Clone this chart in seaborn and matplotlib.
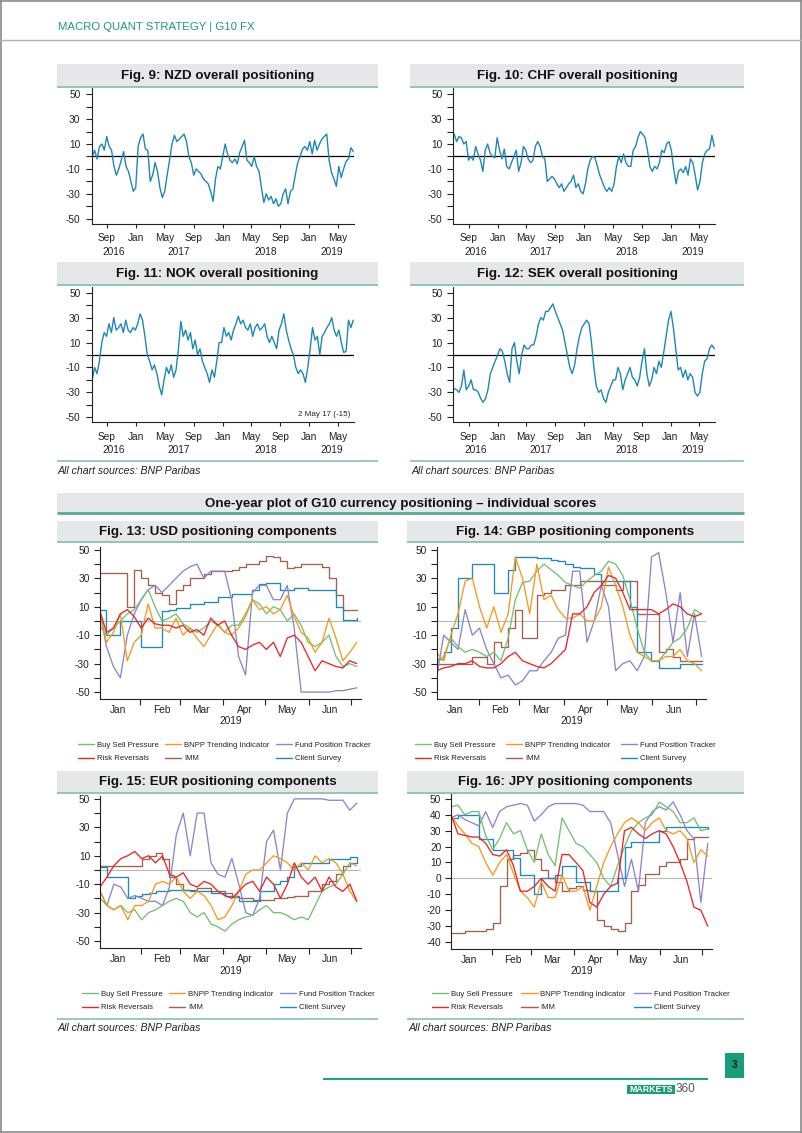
import numpy as np
import pandas as pd
import matplotlib
matplotlib.use("Agg")
import matplotlib.pyplot as plt
import matplotlib.dates as mdates
from matplotlib.lines import Line2D
from matplotlib.patches import Rectangle
import seaborn as sns

# ---------------------------------------------------------------- data
# Overall positioning scores (Jul 2016 - Jul 2019, roughly 3 readings per month)
nzd_overall = [0, 5, -2, 8, 10, 5, 16, 8, 5, -8, -15, -10, -3, 4, -8, -12, -20, -28,
               -25, 8, 15, 18, 6, 5, -20, -15, -5, -12, -25, -33, -28, -15, -3,
               10, 17, 12, 14, 16, 18, 12, 0, -5, -15, -10, -12, -14, -18, -20,
               -22, -28, -36, -18, -8, -10, 0, 10, 2, -3, -5, -2, -6, 3, 8,
               13, -3, -5, -8, 0, -8, -12, -25, -37, -30, -35, -32, -38, -34, -40,
               -38, -30, -26, -38, -28, -26, -15, -5, 0, 6, 8, 5, 12, 2, 13,
               5, 10, 14, 16, 18, -3, -13, -18, -24, -8, -17, -10, -4, -2, 7, 4]
chf_overall = [18, 12, 16, 15, 10, 12, -3, 0, -3, 8, 2, -3, -12, 5, 10, 3, 0, -1,
               15, 5, -2, 6, -8, -10, -5, 0, 5, -12, -5, 8, 5, -2, -5, -3, 8, 12,
               8, 0, -2, -20, -18, -16, -18, -22, -25, -22, -28, -25, -22, -20, -15,
               -25, -22, -28, -30, -22, -10, -3, 0, -1, -8, -15, -20, -25, -28, -25,
               -28, -22, -8, 0, -5, 2, -5, -8, -8, 5, 8, 15, 20, 18, 15, 5, -8, -12,
               -8, -10, -5, 5, 3, 10, 12, 5, -10, -22, -12, -10, -13, -8, -15,
               -2, -5, -15, -27, -20, -5, 2, 5, 6, 17, 8]
nok_overall = [-20, -10, -15, -5, 10, 18, 15, 25, 18, 30, 20, 22, 25, 18, 28, 20, 18, 22,
               20, 25, 33, 28, 15, 0, -5, -12, -8, -15, -25, -32, -20, -10, -15,
               -8, -18, -12, 5, 27, 15, 20, 12, 18, 5, 12, 0, 5, -5, -10, -15, -22, -12,
               -18, -5, 10, 10, 22, 15, 18, 12, 20, 25, 31, 25, 28, 22, 20, 25, 15, 22,
               25, 20, 22, 25, 15, 10, 15, 10, 5, 20, 25, 33, 20, 12, 5, 0, -10, -15,
               -12, -15, -22, -10, 5, 22, 12, 15, 0, 15, 18, 22, 25, 30, 20,
               15, 20, 10, 2, 3, 28, 22, 28]
sek_overall = [-27, -28, -30, -25, -12, -28, -25, -20, -28, -28, -30, -35, -38, -35, -28,
               -15, -10, -5, 0, 5, 3, -5, -15, -22, 5, 10, -5, -15, 0, 8, 5, 5, 8,
               8, 15, 25, 30, 28, 35, 35, 38, 41, 35, 30, 25, 20, 10, 0, -10, -15, -8,
               5, 15, 22, 25, 28, 25, 10, -10, -25, -30, -28, -35, -38, -30, -25,
               -20, -20, -10, -15, -28, -20, -15, -10, -18, -20, -25, -18, -5, 5, -15,
               -25, -20, -10, -15, -5, -10, 2, 15, 28, 35, 22, 5, -12, -10, -18,
               -12, -20, -15, -18, -30, -33, -30, -15, -5, -3, 5, 8, 5]

overall_titles = ["Fig. 9: NZD overall positioning", "Fig. 10: CHF overall positioning",
                  "Fig. 11: NOK overall positioning", "Fig. 12: SEK overall positioning"]
overall_yticks = [-50, -30, -10, 10, 30, 50]
overall_start, overall_end = "2016-07-01", "2019-07-05"
years = [2016, 2017, 2018, 2019]
nok_note = "2 May 17 (-15)"

# Components (Jan 2019 - Jul 2019)
component_names = ["Buy Sell Pressure", "Risk Reversals", "BNPP Trending Indicator",
                   "IMM", "Fund Position Tracker", "Client Survey"]
comp_start, comp_end = "2019-01-03", "2019-07-05"

usd_bsp = [-3, -10, -5, 0, 5, 8, 15, 22, 10, 0, 2, 5, -2, -5, -8, -5, 0, -3, -8, -3,
           -3, 5, 15, 12, 5, 10, 8, 0, 5, -3, -15, -18, -15, -10, -25, -32, -30, -32]
usd_trend = [8, -15, -8, 5, -28, -15, -10, 12, -5, -5, -8, 2, -10, -5, -12, -18, -10, -2, -8,
             -10, -5, 3, 15, 8, 10, 5, 8, 18, 3, -8, -12, -22, -15, 2, -12, -28, -22, -15]
usd_fpt = [8, -18, -32, -40, -10, 5, 15, 22, 25, 20, 25, 30, 35, 38, 40, 30, 35, 35, 35,
           15, -25, -38, 20, 25, 25, 15, 15, 25, -5, -50, -50, -50, -50, -50, -49, -49, -48, -47]
usd_rr = [8, -8, -5, 5, 8, 3, -5, 2, -2, -3, -3, -5, -3, -8, -6, -10, 2, -3, 0, -10,
          -18, -20, -17, -15, -20, -15, -25, -12, -10, -15, -25, -35, -28, -30, -32, -33, -28, -30]
usd_imm = [34, 34, 34, 34, 10, 36, 30, 25, 20, 18, 12, 22, 25, 30, 30, 33, 35, 35, 35,
           36, 38, 40, 40, 42, 46, 45, 42, 37, 38, 40, 40, 40, 38, 30, 18, 8, 8, 8]
usd_cs = [8, -10, -10, 0, 0, 0, -18, -18, -18, 7, 8, 9, 9, 12, 12, 13, 13, 17, 17, 19,
          19, 19, 22, 26, 27, 27, 22, 22, 23, 23, 22, 22, 22, 22, 10, 1, 1, 2]

gbp_bsp = [-30, -25, -12, -18, -22, -20, -22, -25, -22, -28, -12, 15, 27, 28, 35, 40, 36,
           32, 27, 25, 23, 28, 32, 35, 42, 40, 32, 15, -5, -22, -28, -28, -22, -15, -12, -5, 8, 5]
gbp_trend = [-22, -28, -10, 5, 28, 30, 10, -5, 10, -8, 5, 45, 30, 5, 40, 15, 18, 8, 2, 2,
             5, 0, 0, 10, 38, 25, 10, -10, -22, -25, -28, -28, -25, -25, -20, -28, -30, -35]
gbp_fpt = [-40, -10, -15, -20, 8, -10, -5, -20, -30, -40, -38, -45, -42, -35, -35, -28, -22,
           -12, -10, 35, 35, -15, 0, 25, 10, -35, -30, -28, -35, -25, 45, 48, 20, -15, 20, -25, 5, -25]
gbp_rr = [-35, -33, -32, -30, -30, -28, -32, -33, -33, -30, -25, -22, -28, -30, -32, -33, -30,
          -25, -20, 5, 5, 10, 20, 25, 32, 30, 20, 8, 8, 8, 8, 5, 8, 12, 10, 5, 3, 5]
gbp_imm = [-30, -30, -30, -30, -30, -25, -25, -30, -15, -18, -5, 8, -12, -12, 18, 20, 22, 22,
           25, 25, 28, 28, 28, 25, 25, 22, 28, 28, 5, 5, 5, -22, -20, -25, -28, -28, -28, -28]
gbp_cs = [-27, -22, -5, 30, 30, 40, 40, 40, 20, 20, 36, 45, 45, 45, 44, 44, 43, 42, 40, 38,
          37, 37, 33, 28, 28, 28, 28, 10, -22, -22, -28, -33, -33, -33, -30, -30, -30, -30]

eur_bsp = [-20, -25, -28, -25, -30, -28, -35, -30, -28, -25, -22, -20, -22, -30, -33, -30, -38,
           -40, -43, -38, -35, -33, -32, -28, -25, -30, -30, -32, -35, -33, -35, -25, -15, -12, -10, -3, 5, 3]
eur_trend = [-15, -25, -28, -25, -35, -25, -25, -22, -10, -8, -10, -5, -15, -20, -15, -18, -25,
             -35, -33, -25, -15, -3, 0, 0, 5, 10, 8, 5, 0, 5, 0, 10, 5, 8, 5, -3, -15, -22]
eur_fpt = [-15, -25, -10, -12, -20, -18, -20, -22, -22, -25, -12, 25, 40, 10, 40, 40, 5, -3, -5,
           8, -10, -30, -32, -20, 20, 28, 0, 40, 50, 50, 50, 50, 50, 49, 49, 49, 42, 47]
eur_rr = [-12, -5, 3, 8, 10, 13, 8, 10, 5, 10, -3, -5, -2, -10, -12, -8, -10, -15, -18, -20,
          -15, -10, -8, -15, -5, -10, -20, -10, 5, -5, -10, -5, -15, -5, -12, -15, -10, -22]
eur_imm = [3, 3, 3, 3, 3, 3, 8, 10, 12, 8, -5, -10, -14, -14, -13, -13, -15, -15, -16, -18,
           -20, -20, -21, -21, -21, -20, -20, -19, -18, -18, -15, -15, -10, -8, -3, 3, 5, 5]
eur_cs = [2, -5, -5, -5, -20, -18, -17, -16, -15, -15, -14, -14, -14, -15, -15, -15, -16, -16,
          -18, -19, -22, -22, -22, -15, -15, -10, -8, -5, 3, 5, 5, 5, 5, 8, 8, 8, 9, 5]

jpy_bsp = [45, 46, 40, 42, 42, 27, 18, 25, 35, 28, 30, 18, 10, 28, 15, 8, 38, 30, 22, 20,
           15, 10, 0, -5, 8, 20, 30, 35, 38, 40, 48, 45, 42, 35, 35, 38, 30, 31]
jpy_trend = [40, 33, 28, 22, 20, 10, 2, 10, 15, 3, -8, -12, -18, -2, -12, -12, 2, -8, -8, -5,
             -20, -5, 10, 20, 28, 35, 38, 35, 30, 35, 38, 30, 28, 30, 25, 10, 18, 14]
jpy_fpt = [38, 40, 37, 35, 33, 42, 32, 42, 45, 46, 47, 46, 36, 40, 45, 47, 47, 47, 47, 46,
           42, 42, 42, 35, 15, -5, 12, -8, 35, 42, 45, 43, 48, 40, 30, 25, -15, 22]
jpy_rr = [40, 28, 27, 26, 26, 22, 15, 14, 18, 8, -8, -8, -5, 0, -5, -8, 15, 15, 10, 5,
          -15, -18, -10, -5, -3, 30, 32, 28, 25, 28, 30, 28, 20, 10, -2, -18, -20, -30]
jpy_imm = [-34, -34, -33, -33, -33, -32, -28, -5, 12, 15, 16, 18, 12, 5, 0, -2, -8, -6, -5, -7,
           -8, -26, -30, -32, -33, -28, -8, -4, 3, 3, 8, 10, 10, 12, 25, 26, 26, 26]
jpy_cs = [38, 40, 40, 40, 25, 25, 18, 18, 18, 13, 2, 2, -10, 0, 0, 2, 8, 8, -2, -2,
          -8, -8, -8, -8, 0, 20, 23, 23, 23, 23, 30, 32, 32, 32, 32, 32, 32, 31]

component_titles = ["Fig. 13: USD positioning components", "Fig. 14: GBP positioning components",
                    "Fig. 15: EUR positioning components", "Fig. 16: JPY positioning components"]
comp_yticks = [-50, -30, -10, 10, 30, 50]
jpy_yticks = [-40, -30, -20, -10, 0, 10, 20, 30, 40, 50]

# ---------------------------------------------------------------- style
sns.set_theme(style="white")
plt.rcParams["font.family"] = ["Liberation Sans", "DejaVu Sans"]
plt.rcParams["axes.unicode_minus"] = False

GREEN_TXT = "#1f9a70"
BAR = "#e6e7e8"
BAR_LINE = "#8fc7b2"
SRC_LINE = "#8fc7b2"
OV_COLOR = "#1f87b6"
COLORS = {"Buy Sell Pressure": "#72c172", "Risk Reversals": "#e8262b",
          "BNPP Trending Indicator": "#f39a1e", "IMM": "#a3604b",
          "Fund Position Tracker": "#8b86cc", "Client Survey": "#1d8cb6"}
STEP = {"IMM", "Client Survey"}
TICK_FS = 7.3

W, H = 802, 1133
fig = plt.figure(figsize=(W / 100, H / 100), dpi=100)
fig.patch.set_facecolor("white")


def fx(x):
    return x / W


def fy(y):
    return 1 - y / H


def add_ax(x0, y0, x1, y1):
    return fig.add_axes([fx(x0), fy(y1), (x1 - x0) / W, (y1 - y0) / H])


def hline(x0, x1, y, color, lw):
    fig.add_artist(Line2D([fx(x0), fx(x1)], [fy(y), fy(y)], transform=fig.transFigure,
                          color=color, lw=lw, solid_capstyle="butt"))


def vline(x, y0, y1, color, lw):
    fig.add_artist(Line2D([fx(x), fx(x)], [fy(y0), fy(y1)], transform=fig.transFigure,
                          color=color, lw=lw))


def rect(x0, y0, x1, y1, color):
    fig.add_artist(Rectangle((fx(x0), fy(y1)), (x1 - x0) / W, (y1 - y0) / H,
                             transform=fig.transFigure, facecolor=color, edgecolor="none"))


def title_bar(x0, x1, y0, y1, text, size=9.6, line_color=BAR_LINE, lw=1.4):
    rect(x0, y0, x1, y1, BAR)
    hline(x0, x1, y1, line_color, lw)
    fig.text(fx((x0 + x1) / 2), fy((y0 + y1) / 2 + 0.5), text, ha="center", va="center",
             fontsize=size, fontweight="bold", color="#111111")


def style_spines(ax):
    for s in ["top", "right"]:
        ax.spines[s].set_visible(False)
    for s in ["left", "bottom"]:
        ax.spines[s].set_color("#222222")
        ax.spines[s].set_linewidth(0.8)
    ax.set_xlabel("")
    ax.set_ylabel("")


def overall(ax, vals, note=None):
    dates = pd.date_range(overall_start, overall_end, periods=len(vals))
    df = pd.DataFrame({"date": dates, "score": vals})
    sns.lineplot(data=df, x="date", y="score", ax=ax, color=OV_COLOR, lw=1.0)
    ax.axhline(0, color="black", lw=0.9, zorder=1)
    ax.set_xlim(pd.Timestamp("2016-06-28"), pd.Timestamp("2019-07-08"))
    ax.set_ylim(-54, 55)
    ax.set_yticks(overall_yticks)
    ax.set_yticks(range(-50, 51, 10), minor=True)
    ax.xaxis.set_major_locator(mdates.MonthLocator(bymonth=[1, 5, 9]))
    ax.xaxis.set_major_formatter(mdates.DateFormatter("%b"))
    ax.xaxis.set_minor_locator(matplotlib.ticker.NullLocator())
    ax.tick_params(axis="y", which="both", direction="out", length=4, width=0.8,
                   labelsize=TICK_FS, pad=4, colors="#222222", left=True)
    ax.tick_params(axis="x", which="both", direction="out", length=3, width=0.8,
                   labelsize=TICK_FS, pad=4, colors="#222222", bottom=True)
    style_spines(ax)
    d0, d1 = dates[0], dates[-1]
    for yr in years:
        a = max(pd.Timestamp(f"{yr}-01-01"), d0)
        b = min(pd.Timestamp(f"{yr}-12-31"), d1)
        mid = a + (b - a) / 2
        ax.annotate(str(yr), xy=(mdates.date2num(mid), 0), xycoords=ax.get_xaxis_transform(),
                    xytext=(0, -28 * 0.72), textcoords="offset points",
                    ha="center", va="center", fontsize=TICK_FS, color="#222222")
    if note:
        ax.text(0.985, 0.06, note, transform=ax.transAxes, ha="right", va="center",
                fontsize=5.8, color="#222222")


def components(ax, series, ylim, yticks, minor=True, legend_xy=(0, 0), colspace=0.9):
    dates = pd.date_range(comp_start, comp_end, periods=len(series[component_names[0]]))
    ax.axhline(0, color="#b8b8b8", lw=0.8, zorder=1)
    order = ["IMM", "Client Survey", "Fund Position Tracker", "Buy Sell Pressure",
             "BNPP Trending Indicator", "Risk Reversals"]
    for name in order:
        kw = {"drawstyle": "steps-post"} if name in STEP else {}
        sns.lineplot(x=dates, y=series[name], ax=ax, color=COLORS[name], lw=0.95, **kw)
    ax.set_xlim(pd.Timestamp("2019-01-03"), pd.Timestamp("2019-07-08"))
    ax.set_ylim(*ylim)
    ax.set_yticks(yticks)
    if minor:
        ax.set_yticks(range(-50, 51, 10), minor=True)
    ax.xaxis.set_major_locator(mdates.MonthLocator())
    ax.xaxis.set_major_formatter(matplotlib.ticker.NullFormatter())
    ax.xaxis.set_minor_locator(mdates.MonthLocator(bymonthday=16))
    ax.xaxis.set_minor_formatter(mdates.DateFormatter("%b"))
    ax.tick_params(axis="y", which="both", direction="out", length=4, width=0.8,
                   labelsize=TICK_FS, pad=3, colors="#222222", left=True)
    ax.tick_params(axis="x", which="major", direction="out", length=4, width=0.8,
                   bottom=True, colors="#222222")
    ax.tick_params(axis="x", which="minor", length=0, labelsize=TICK_FS, pad=5, colors="#222222")
    style_spines(ax)
    ax.annotate("2019", xy=(0.5, 0), xycoords="axes fraction", xytext=(0, -23 * 0.72),
                textcoords="offset points", ha="center", va="center", fontsize=TICK_FS,
                color="#222222")
    handles = [Line2D([], [], color=COLORS[n], lw=1.0) for n in component_names]
    leg = ax.legend(handles, component_names, ncol=3, loc="center left",
                    bbox_to_anchor=(fx(legend_xy[0]), fy(legend_xy[1])),
                    bbox_transform=fig.transFigure, frameon=False, fontsize=5.6,
                    handlelength=2.1, handletextpad=0.35, columnspacing=colspace,
                    labelspacing=0.75, borderpad=0, borderaxespad=0)
    for t in leg.get_texts():
        t.set_color("#222222")


# ---------------------------------------------------------------- page decoration
hline(0, W, 1, "#8a8a8a", 1.2)
hline(0, W, 1132, "#8a8a8a", 1.2)
vline(1, 0, H, "#8a8a8a", 1.2)
vline(801, 0, H, "#8a8a8a", 1.2)
hline(0, W, 40, "#b0b0b0", 1.0)
fig.text(fx(58), fy(27), "MACRO QUANT STRATEGY | G10 FX", ha="left", va="center",
         fontsize=8.2, color=GREEN_TXT)

# ---------------------------------------------------------------- overall charts
title_bar(57, 378, 64, 87, overall_titles[0])
title_bar(410, 744, 64, 87, overall_titles[1])
title_bar(57, 378, 262, 285, overall_titles[2])
title_bar(410, 744, 262, 285, overall_titles[3])

ax9 = add_ax(91.5, 88, 354, 223.7)
overall(ax9, nzd_overall)
ax10 = add_ax(453.5, 88, 715, 223.7)
overall(ax10, chf_overall)
ax11 = add_ax(91.5, 286.5, 354, 422.2)
overall(ax11, nok_overall, note=nok_note)
ax12 = add_ax(453.5, 286.5, 715, 422.2)
overall(ax12, sek_overall)

hline(57, 378, 461, SRC_LINE, 1.3)
hline(410, 744, 461, SRC_LINE, 1.3)
fig.text(fx(58), fy(470.5), "All chart sources: BNP Paribas", ha="left", va="center",
         fontsize=7.6, style="italic", color="#222222")
fig.text(fx(412), fy(470.5), "All chart sources: BNP Paribas", ha="left", va="center",
         fontsize=7.6, style="italic", color="#222222")

# ---------------------------------------------------------------- section header
title_bar(57, 744, 493, 513, "One-year plot of G10 currency positioning \u2013 individual scores",
          line_color="#5aaa8c", lw=2.0)

# ---------------------------------------------------------------- component charts
title_bar(57, 378, 521, 542, component_titles[0])
title_bar(407, 744, 521, 542, component_titles[1])
title_bar(57, 378, 771, 793, component_titles[2])
title_bar(407, 744, 771, 793, component_titles[3])

usd = dict(zip(component_names, [usd_bsp, usd_rr, usd_trend, usd_imm, usd_fpt, usd_cs]))
gbp = dict(zip(component_names, [gbp_bsp, gbp_rr, gbp_trend, gbp_imm, gbp_fpt, gbp_cs]))
eur = dict(zip(component_names, [eur_bsp, eur_rr, eur_trend, eur_imm, eur_fpt, eur_cs]))
jpy = dict(zip(component_names, [jpy_bsp, jpy_rr, jpy_trend, jpy_imm, jpy_fpt, jpy_cs]))

ax13 = add_ax(99.5, 547, 361, 698.5)
components(ax13, usd, (-54.5, 52), comp_yticks, legend_xy=(78, 752), colspace=0.8)
ax14 = add_ax(436.5, 547, 706, 698.5)
components(ax14, gbp, (-54.5, 52), comp_yticks, legend_xy=(415, 752), colspace=1.3)
ax15 = add_ax(100, 796, 361, 947.5)
components(ax15, eur, (-54.5, 52), comp_yticks, legend_xy=(82, 1001), colspace=0.8)
ax16 = add_ax(451, 794, 712, 948.5)
components(ax16, jpy, (-44, 53), jpy_yticks, minor=False, legend_xy=(432, 1001), colspace=1.1)

hline(57, 378, 1019, SRC_LINE, 1.3)
hline(407, 744, 1019, SRC_LINE, 1.3)
fig.text(fx(58), fy(1028), "All chart sources: BNP Paribas", ha="left", va="center",
         fontsize=7.6, style="italic", color="#222222")
fig.text(fx(409), fy(1028), "All chart sources: BNP Paribas", ha="left", va="center",
         fontsize=7.6, style="italic", color="#222222")

# ---------------------------------------------------------------- footer
hline(323, 708, 1079, "#1aa57c", 1.5)
rect(725, 1053, 744, 1078, "#1a9e7a")
fig.text(fx(734.5), fy(1065.5), "3", ha="center", va="center", fontsize=7,
         fontweight="bold", color="#111111")
rect(627, 1085, 675, 1094, "#1a9e6f")
fig.text(fx(651), fy(1089.5), "MARKETS", ha="center", va="center", fontsize=6.3,
         fontweight="bold", color="white")
fig.text(fx(676), fy(1089.5), "360", ha="left", va="center", fontsize=8.5, color="#555555")

fig.savefig("out.png", dpi=100, facecolor="white")
